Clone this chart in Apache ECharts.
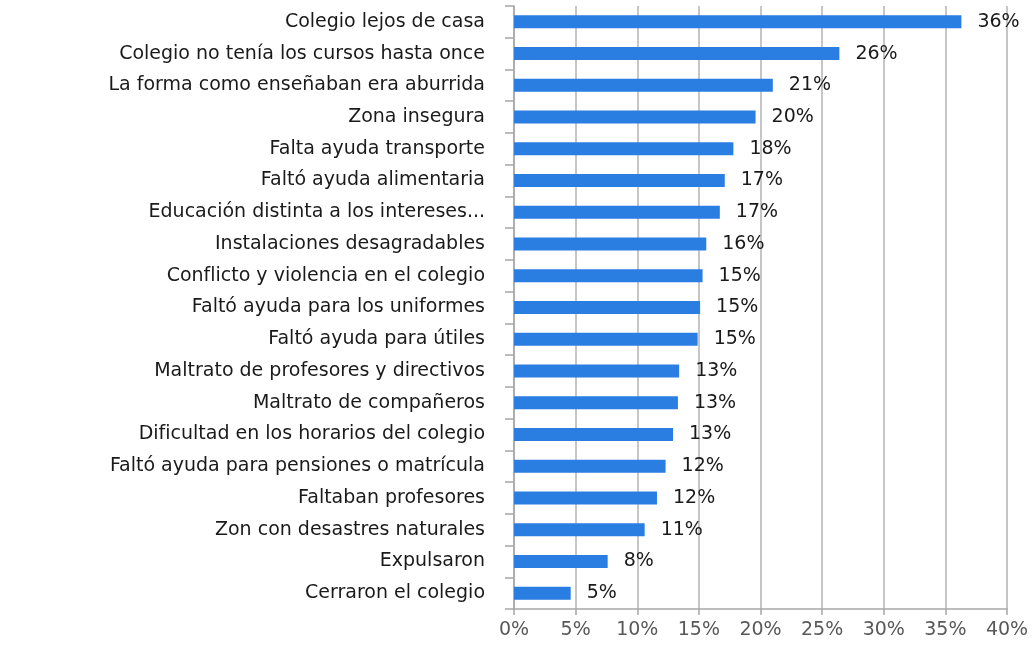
<!DOCTYPE html>
<html lang="es">
<head>
  <meta charset="UTF-8">
  <title>Razones de abandono escolar</title>
  <style>
    * { margin: 0; padding: 0; }
    body { background: #fff; }
    #main { width: 1034px; height: 647px; }
  </style>
</head>
<body>
  <div id="main"></div>
  <script src="https://cdn.jsdelivr.net/npm/echarts@6/dist/echarts.min.js"></script>
  <script>
  // categorías (de arriba hacia abajo)
  var categories = [
    'Colegio lejos de casa',
    'Colegio no tenía los cursos hasta once',
    'La forma como enseñaban era aburrida',
    'Zona insegura',
    'Falta ayuda transporte',
    'Faltó ayuda alimentaria',
    'Educación distinta a los intereses...',
    'Instalaciones desagradables',
    'Conflicto y violencia en el colegio',
    'Faltó ayuda para los uniformes',
    'Faltó ayuda para útiles',
    'Maltrato de profesores y directivos',
    'Maltrato de compañeros',
    'Dificultad en los horarios del colegio',
    'Faltó ayuda para pensiones o matrícula',
    'Faltaban profesores',
    'Zon con desastres naturales',
    'Expulsaron',
    'Cerraron el colegio'
  ];
  // porcentajes
  var values = [36.3, 26.4, 21.0, 19.6, 17.8, 17.1, 16.7, 15.6, 15.3, 15.1, 14.9,
                13.4, 13.3, 12.9, 12.3, 11.6, 10.6, 7.6, 4.6];

  var myChart = echarts.init(document.getElementById('main'));
  var font = 'DejaVu Sans';

  var option = {
    animation: false,
    grid: { left: 514, right: 27, top: 6, bottom: 38 },
    xAxis: {
      type: 'value',
      min: 0,
      max: 40,
      interval: 5,
      axisLine: { show: true, lineStyle: { color: '#a6a6a6', width: 1.5 } },
      axisTick: { show: true, length: 6, lineStyle: { color: '#a6a6a6', width: 1.5 } },
      splitLine: { lineStyle: { color: '#b3b3b3', width: 1.5 } },
      axisLabel: {
        formatter: '{value}%',
        color: '#595959',
        fontFamily: font,
        fontSize: 19,
        margin: 12
      }
    },
    yAxis: {
      type: 'category',
      inverse: true,
      data: categories,
      axisLine: { show: true, lineStyle: { color: '#a6a6a6', width: 1.5 } },
      axisTick: { show: true, length: 9, lineStyle: { color: '#a6a6a6', width: 1.5 } },
      axisLabel: {
        color: '#1a1a1a',
        fontFamily: font,
        fontSize: 19,
        margin: 29
      }
    },
    series: [{
      type: 'bar',
      data: values,
      barWidth: 13,
      itemStyle: { color: '#2a7de1' },
      label: {
        show: true,
        position: 'right',
        distance: 16,
        color: '#1a1a1a',
        fontFamily: font,
        fontSize: 19,
        formatter: function (p) { return Math.round(p.value) + '%'; }
      }
    }]
  };
  myChart.setOption(option);
  </script>
</body>
</html>
